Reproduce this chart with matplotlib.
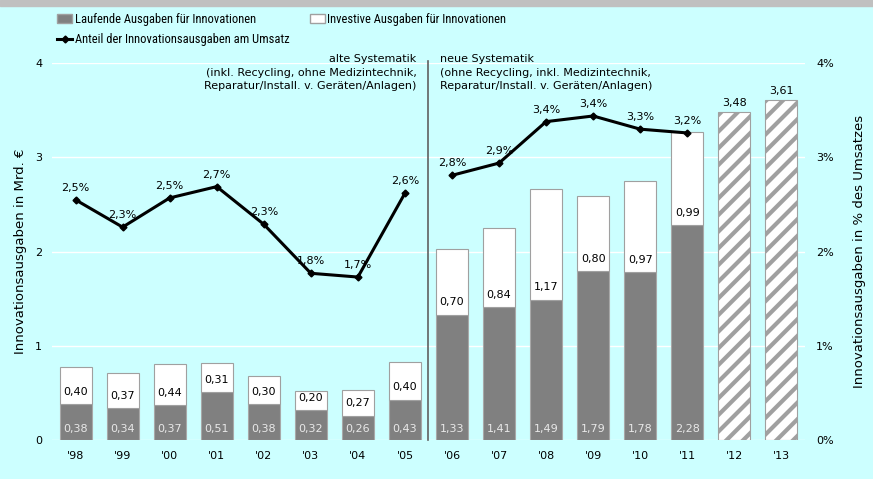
import numpy as np
import matplotlib.pyplot as plt
from matplotlib.patches import Patch
from matplotlib.lines import Line2D
from matplotlib import font_manager

# Daten
jahre = ["'98", "'99", "'00", "'01", "'02", "'03", "'04", "'05",
         "'06", "'07", "'08", "'09", "'10", "'11", "'12", "'13"]
laufend = [0.38, 0.34, 0.37, 0.51, 0.38, 0.32, 0.26, 0.43,
           1.33, 1.41, 1.49, 1.79, 1.78, 2.28]
investiv = [0.40, 0.37, 0.44, 0.31, 0.30, 0.20, 0.27, 0.40,
            0.70, 0.84, 1.17, 0.80, 0.97, 0.99]
plan = [3.48, 3.61]
anteil_alt = [2.55, 2.26, 2.57, 2.69, 2.29, 1.77, 1.73, 2.62]
anteil_neu = [2.81, 2.94, 3.38, 3.44, 3.30, 3.26]
anteil_labels = ["2,5%", "2,3%", "2,5%", "2,7%", "2,3%", "1,8%", "1,7%", "2,6%",
                 "2,8%", "2,9%", "3,4%", "3,4%", "3,3%", "3,2%"]

bg = "#CCFFFF"
plt.rcParams['hatch.color'] = "#8C8C8C"
plt.rcParams['hatch.linewidth'] = 3

# schmale Schrift fuer die Legende, falls vorhanden
namen = {f.name for f in font_manager.fontManager.ttflist}
leg_font = "DejaVu Sans"
for kandidat in ["Liberation Sans Narrow", "Roboto Condensed", "Roboto"]:
    if kandidat in namen:
        leg_font = kandidat
        break

fig = plt.figure(figsize=(8.73, 4.79), dpi=100, facecolor=bg)
ax = fig.add_axes([0.0596, 0.0814, 0.8624, 0.7866], facecolor=bg)
# grauer Streifen oben
fig.patches.append(plt.Rectangle((0, 0.987), 1, 0.013, transform=fig.transFigure,
                                 color="#C0C0C0", zorder=0))

x = np.arange(len(jahre))
n = len(laufend)
w = 0.68
ax.bar(x[:n], laufend, w, color="#808080", edgecolor="#A8A8A8", lw=0.8, zorder=2)
ax.bar(x[:n], investiv, w, bottom=laufend, color="white", edgecolor="#A0A0A0", lw=0.8, zorder=2)
ax.bar(x[n:], plan, w, color="white", edgecolor="#A0A0A0", lw=0.8, hatch="//", zorder=2)

fs = 8
for i in range(n):
    ax.text(x[i], 0.12, ("%.2f" % laufend[i]).replace(".", ","),
            ha="center", va="center", fontsize=fs, color="#E8E8E8", zorder=4)
    ax.text(x[i], laufend[i] + 0.13, ("%.2f" % investiv[i]).replace(".", ","),
            ha="center", va="center", fontsize=fs, color="black", zorder=4)
for i, v in enumerate(plan):
    ax.text(x[n + i], v + 0.04, ("%.2f" % v).replace(".", ","),
            ha="center", va="bottom", fontsize=fs, color="black", zorder=4)

# Anteil am Umsatz
ax.plot(x[:8], anteil_alt, color="black", lw=2.2, marker="D", ms=3.5, zorder=5)
ax.plot(x[8:n], anteil_neu, color="black", lw=2.2, marker="D", ms=3.5, zorder=5)
werte = anteil_alt + anteil_neu
for i, v in enumerate(werte):
    ax.annotate(anteil_labels[i], (x[i], v), xytext=(0, 5), textcoords="offset points",
                ha="center", va="bottom", fontsize=fs, zorder=6)

# Trennlinie
ax.plot([7.5, 7.5], [0, 4.02], color="#606060", lw=1.2, clip_on=False, zorder=3)
ax.text(7.25, 3.90, "alte Systematik\n(inkl. Recycling, ohne Medizintechnik,\nReparatur/Install. v. Geräten/Anlagen)",
        ha="right", va="center", fontsize=fs, linespacing=1.45)
ax.text(7.75, 3.90, "neue Systematik\n(ohne Recycling, inkl. Medizintechnik,\nReparatur/Install. v. Geräten/Anlagen)",
        ha="left", va="center", fontsize=fs, linespacing=1.45)

ax.set_xlim(-0.5, len(jahre) - 0.5)
ax.set_ylim(0, 4)
ax.set_xticks(x)
ax.set_xticklabels(jahre, fontsize=fs)
ax.set_yticks([0, 1, 2, 3, 4])
ax.set_yticklabels(["0", "1", "2", "3", "4"], fontsize=fs)
ax.tick_params(length=0, pad=8)
ax.tick_params(axis="y", pad=7)
ax.grid(axis="y", color="white", lw=1)
ax.set_axisbelow(True)
for s in ax.spines.values():
    s.set_visible(False)
ax.set_ylabel("Innovationsausgaben in Mrd. €", fontsize=9.5, labelpad=6)

ax2 = ax.twinx()
ax2.set_ylim(0, 4)
ax2.set_yticks([0, 1, 2, 3, 4])
ax2.set_yticklabels(["0%", "1%", "2%", "3%", "4%"], fontsize=fs)
ax2.tick_params(length=0, pad=8)
for s in ax2.spines.values():
    s.set_visible(False)
ax2.set_ylabel("Innovationsausgaben in % des Umsatzes", fontsize=9.5, labelpad=14)

# Legende
handles = [Patch(facecolor="#808080", edgecolor="#A0A0A0"),
           Line2D([], [], color="black", lw=2.2, marker="D", ms=3.5),
           Patch(facecolor="white", edgecolor="#A0A0A0")]
labels = ["Laufende Ausgaben für Innovationen",
          "Anteil der Innovationsausgaben am Umsatz",
          "Investive Ausgaben für Innovationen"]
fig.legend(handles, labels, ncol=2, loc="upper left", bbox_to_anchor=(0.060, 0.984),
           frameon=False, prop={"family": leg_font, "size": 9}, handlelength=1.2,
           handleheight=0.8, handletextpad=0.2, columnspacing=1.6, labelspacing=0.6,
           borderaxespad=0)

fig.savefig("out.png", dpi=100, facecolor=bg)
